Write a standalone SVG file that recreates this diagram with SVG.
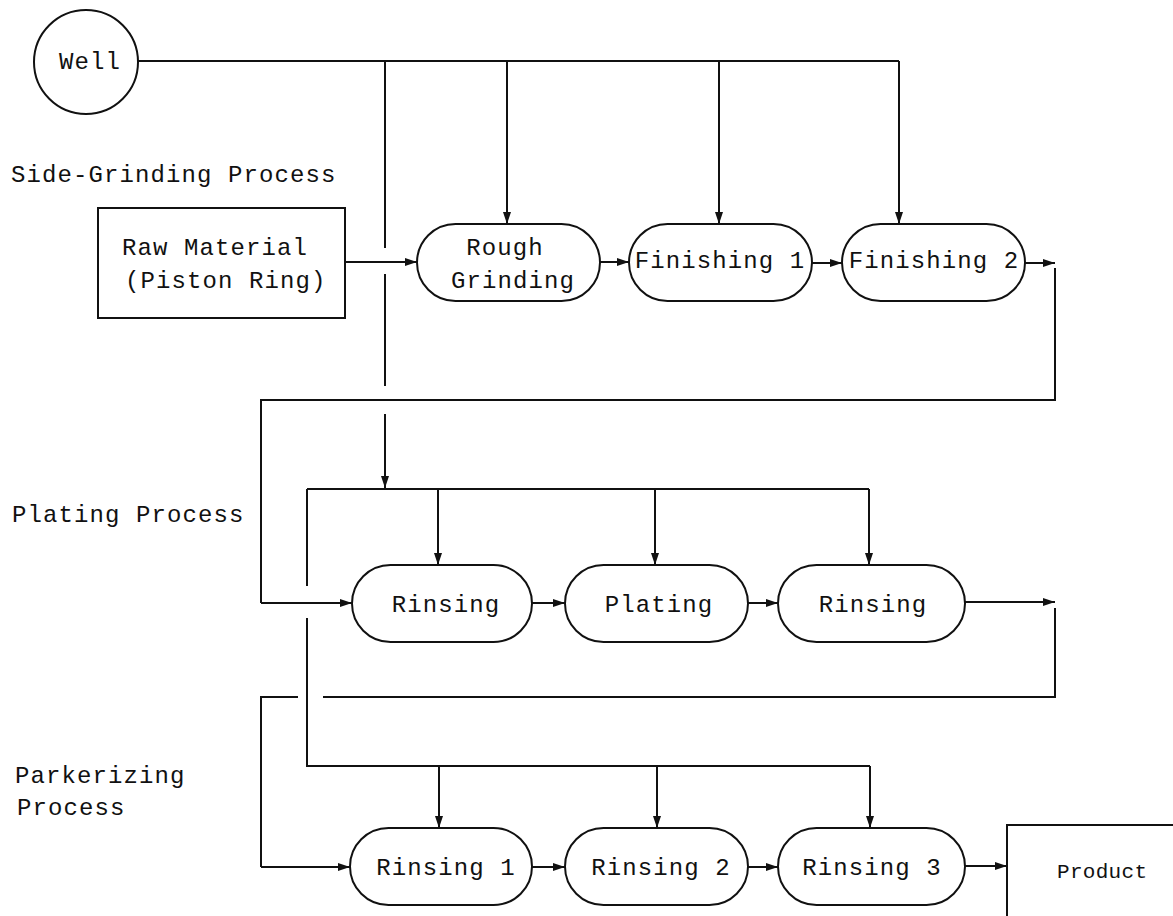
<svg xmlns="http://www.w3.org/2000/svg" width="1173" height="916" viewBox="0 0 1173 916">
  <defs>
    <marker id="arrow" markerWidth="12" markerHeight="8" refX="12" refY="4" orient="auto" markerUnits="userSpaceOnUse">
      <path d="M0,0 L12,4 L0,8 z" fill="#111"/>
    </marker>
    <style>
      .shape { fill: #fff; stroke: #111; stroke-width: 2; }
      .line { fill: none; stroke: #111; stroke-width: 2; }
      .arr { fill: none; stroke: #111; stroke-width: 2; marker-end: url(#arrow); }
      .t { font-family: "Liberation Mono", "DejaVu Sans Mono", monospace; font-size: 24px; letter-spacing: 1.1px; fill: #111; }
      .c { text-anchor: middle; }
      .p { font-family: "Liberation Mono", "DejaVu Sans Mono", monospace; font-size: 21px; letter-spacing: 0.3px; fill: #111; }
    </style>
  </defs>
  <rect width="1173" height="916" fill="#fff"/>

  <!-- section labels -->
  <text class="t" x="11" y="182">Side-Grinding Process</text>
  <text class="t" x="12" y="522">Plating Process</text>
  <text class="t" x="15" y="783">Parkerizing</text>
  <text class="t" x="17" y="815">Process</text>

  <!-- connectors -->
  <g id="connectors">
    <!-- water supply from the well -->
    <path class="line" d="M138,61 H899"/>
    <path class="arr" d="M507,61 V224"/>
    <path class="arr" d="M719,61 V224"/>
    <path class="arr" d="M899,61 V224"/>
    <!-- main supply trunk down to the plating header (broken at crossings) -->
    <path class="line" d="M385,61 V248"/>
    <path class="line" d="M385,274 V386"/>
    <path class="arr" d="M385,414 V488"/>
    <!-- plating header -->
    <path class="line" d="M307,489 H869"/>
    <path class="arr" d="M438,489 V565"/>
    <path class="arr" d="M655,489 V565"/>
    <path class="arr" d="M869,489 V565"/>
    <!-- trunk down to the parkerizing header -->
    <path class="line" d="M307,489 V586"/>
    <path class="line" d="M307,618 V766 H870"/>
    <path class="arr" d="M439,766 V828"/>
    <path class="arr" d="M657,766 V828"/>
    <path class="arr" d="M870,766 V828"/>

    <!-- side-grinding flow -->
    <path class="arr" d="M345,262 H417"/>
    <path class="arr" d="M600,262 H629"/>
    <path class="arr" d="M812,263 H842"/>
    <path class="arr" d="M1025,263 H1055"/>
    <path class="line" d="M1055,268 V400 H261 V603"/>
    <path class="arr" d="M261,603 H352"/>

    <!-- plating flow -->
    <path class="arr" d="M532,603 H565"/>
    <path class="arr" d="M748,603 H778"/>
    <path class="arr" d="M965,602 H1055"/>
    <path class="line" d="M1055,608 V697 H323"/>
    <path class="line" d="M298,697 H261 V867"/>
    <path class="arr" d="M261,867 H350"/>

    <!-- parkerizing flow -->
    <path class="arr" d="M532,867 H565"/>
    <path class="arr" d="M748,867 H778"/>
    <path class="arr" d="M965,866 H1007"/>
  </g>

  <g id="well">
    <circle class="shape" cx="86" cy="62" r="52"/>
    <text class="t c" x="90" y="69">Well</text>
  </g>

  <g id="raw-material">
    <rect class="shape" x="98" y="208" width="247" height="110"/>
    <text class="t" x="122" y="255">Raw Material</text>
    <text class="t" x="125" y="288">(Piston Ring)</text>
  </g>

  <g id="rough-grinding">
    <rect class="shape" x="417" y="224" width="183" height="77" rx="38.5"/>
    <text class="t c" x="505" y="255">Rough</text>
    <text class="t c" x="513" y="288">Grinding</text>
  </g>

  <g id="finishing-1">
    <rect class="shape" x="629" y="224" width="183" height="77" rx="38.5"/>
    <text class="t c" x="720" y="268">Finishing 1</text>
  </g>

  <g id="finishing-2">
    <rect class="shape" x="842" y="224" width="183" height="77" rx="38.5"/>
    <text class="t c" x="934" y="268">Finishing 2</text>
  </g>

  <g id="plating-rinsing-1">
    <rect class="shape" x="352" y="565" width="180" height="77" rx="38.5"/>
    <text class="t c" x="446" y="612">Rinsing</text>
  </g>

  <g id="plating">
    <rect class="shape" x="565" y="565" width="183" height="77" rx="38.5"/>
    <text class="t c" x="659" y="612">Plating</text>
  </g>

  <g id="plating-rinsing-2">
    <rect class="shape" x="778" y="565" width="187" height="77" rx="38.5"/>
    <text class="t c" x="873" y="612">Rinsing</text>
  </g>

  <g id="rinsing-1">
    <rect class="shape" x="350" y="828" width="182" height="77" rx="38.5"/>
    <text class="t c" x="446" y="875">Rinsing 1</text>
  </g>

  <g id="rinsing-2">
    <rect class="shape" x="565" y="828" width="183" height="77" rx="38.5"/>
    <text class="t c" x="661" y="875">Rinsing 2</text>
  </g>

  <g id="rinsing-3">
    <rect class="shape" x="778" y="828" width="187" height="77" rx="38.5"/>
    <text class="t c" x="872" y="875">Rinsing 3</text>
  </g>

  <g id="product">
    <rect class="shape" x="1007" y="825" width="200" height="120"/>
    <text class="p" x="1057" y="878">Product</text>
  </g>
</svg>
